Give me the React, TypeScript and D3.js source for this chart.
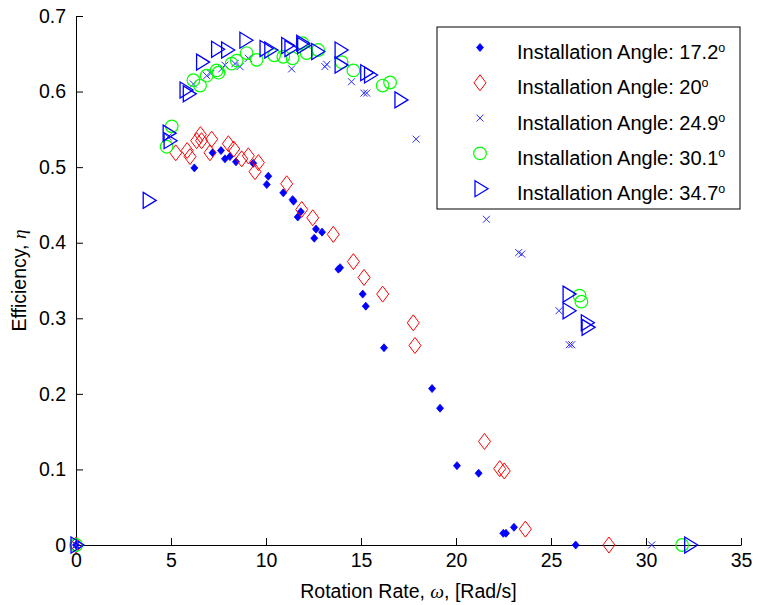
import { useEffect, useRef } from "react";
import * as d3 from "d3";

// Installation Angle: 17.2 (blue filled diamonds)
const s1x = [0, 6.23, 7.19, 7.63, 7.84, 8.1, 8.42, 9.33, 10.12, 10.04, 10.91, 11.4, 11.45, 11.83, 11.67, 12.63, 12.95, 12.54, 13.81, 13.9, 15.09, 15.25, 16.21, 18.74, 19.16, 20.05, 21.19, 22.49, 22.63, 23.05, 26.3];
const s1y = [0, 0.499, 0.519, 0.522, 0.511, 0.514, 0.507, 0.505, 0.488, 0.477, 0.466, 0.457, 0.455, 0.441, 0.434, 0.418, 0.414, 0.406, 0.365, 0.367, 0.332, 0.316, 0.261, 0.207, 0.181, 0.105, 0.095, 0.0155, 0.0155, 0.0234, 0];

// Installation Angle: 20 (red hollow diamonds)
const s2x = [0, 5.25, 5.85, 6.0, 6.35, 6.55, 6.61, 7.05, 7.14, 8.02, 8.3, 8.72, 9.07, 9.6, 9.42, 11.09, 11.88, 12.46, 13.54, 14.6, 15.16, 16.14, 17.75, 17.84, 21.5, 22.3, 22.54, 23.65, 28.05];
const s2y = [0, 0.519, 0.522, 0.514, 0.535, 0.543, 0.535, 0.519, 0.537, 0.531, 0.524, 0.511, 0.515, 0.506, 0.494, 0.478, 0.444, 0.433, 0.411, 0.375, 0.354, 0.332, 0.294, 0.264, 0.137, 0.101, 0.098, 0.021, 0];

// Installation Angle: 24.9 (blue x)
const s3x = [0, 4.85, 6.18, 6.88, 7.1, 7.67, 7.84, 8.37, 8.63, 9.07, 11.35, 13.1, 13.2, 14.5, 15.15, 15.3, 17.9, 21.6, 23.3, 23.46, 25.42, 25.96, 26.09, 30.3];
const s3y = [0, 0.54, 0.61, 0.621, 0.624, 0.63, 0.635, 0.637, 0.633, 0.644, 0.63, 0.633, 0.636, 0.613, 0.598, 0.598, 0.537, 0.431, 0.387, 0.385, 0.31, 0.265, 0.265, 0];

// Installation Angle: 30.1 (green circles)
const s4x = [0, 4.77, 5.04, 6.18, 6.53, 6.88, 7.4, 7.5, 8.19, 8.46, 8.98, 9.51, 10.43, 10.91, 11.4, 11.92, 12.14, 12.75, 13.98, 14.6, 16.14, 16.53, 26.5, 26.6, 31.9];
const s4y = [0, 0.527, 0.554, 0.615, 0.608, 0.621, 0.628, 0.625, 0.637, 0.641, 0.651, 0.642, 0.648, 0.646, 0.644, 0.664, 0.651, 0.655, 0.639, 0.628, 0.608, 0.612, 0.33, 0.322, 0];

// Installation Angle: 34.7 (blue right triangles)
const s5x = [0, 3.8, 4.85, 4.9, 5.74, 5.91, 6.61, 7.4, 7.93, 8.89, 9.95, 10.2, 11.09, 11.26, 11.88, 11.93, 12.67, 13.9, 13.9, 15.25, 15.45, 17.05, 25.9, 25.9, 26.86, 26.9, 32.3];
const s5y = [0, 0.456, 0.545, 0.535, 0.602, 0.597, 0.639, 0.656, 0.655, 0.668, 0.657, 0.655, 0.661, 0.657, 0.664, 0.661, 0.653, 0.655, 0.635, 0.625, 0.622, 0.589, 0.332, 0.31, 0.294, 0.288, 0];

const legendAngles = ["17.2", "20", "24.9", "30.1", "34.7"];
const xTicks = [0, 5, 10, 15, 20, 25, 30, 35];
const yTicks = [0, 0.1, 0.2, 0.3, 0.4, 0.5, 0.6, 0.7];

const W = 760;
const H = 605;
const FONT = "'Liberation Sans', Arial, sans-serif";

type Sel = d3.Selection<SVGGElement, unknown, null, undefined>;

// marker drawers, centred at 0,0
const markers: ((g: Sel) => void)[] = [
  (g) => g.append("path").attr("d", "M0,-4L3.5,0L0,4L-3.5,0Z").attr("fill", "#0000ff").attr("stroke", "#0000ff").attr("stroke-width", 0.8),
  (g) => g.append("path").attr("d", "M0,-8L6,0L0,8L-6,0Z").attr("fill", "none").attr("stroke", "#ff0000").attr("stroke-width", 1),
  (g) => g.append("path").attr("d", "M-3.5,-3.5L3.5,3.5M-3.5,3.5L3.5,-3.5").attr("fill", "none").attr("stroke", "#2a2aff").attr("stroke-width", 1),
  (g) => g.append("circle").attr("r", 6.3).attr("fill", "none").attr("stroke", "#00ff00").attr("stroke-width", 1.2),
  (g) => g.append("path").attr("d", "M-5,-8L8,0L-5,8Z").attr("fill", "none").attr("stroke", "#0000ff").attr("stroke-width", 1.3),
];

const App = () => {
  const svgRef = useRef<SVGSVGElement>(null);

  useEffect(() => {
    document.body.style.margin = "0";
    const svg = d3.select(svgRef.current);
    svg.selectAll("*").remove();

    const left = 76, right = 741, top = 16, bottom = 545;
    const x = d3.scaleLinear().domain([0, 35]).range([left, right]);
    const y = d3.scaleLinear().domain([0, 0.7]).range([bottom, top]);

    svg.append("rect").attr("width", W).attr("height", H).attr("fill", "#fff");

    // axes
    const xAxis = svg.append("g")
      .attr("transform", `translate(0,${bottom})`)
      .call(d3.axisBottom(x).tickValues(xTicks).tickSizeInner(-7).tickSizeOuter(0).tickPadding(8).tickFormat(d3.format("d")));
    const yAxis = svg.append("g")
      .attr("transform", `translate(${left},0)`)
      .call(d3.axisLeft(y).tickValues(yTicks).tickSizeInner(-7).tickSizeOuter(0).tickPadding(10).tickFormat((d) => (+d === 0 ? "0" : d3.format(".1f")(+d))));
    [xAxis, yAxis].forEach((a) => {
      a.selectAll("text").attr("font-family", FONT).attr("font-size", 19.5).attr("fill", "#000");
      a.selectAll("line, path").attr("stroke", "#000");
    });

    // points
    const series = [
      [s1x, s1y], [s2x, s2y], [s3x, s3y], [s4x, s4y], [s5x, s5y],
    ];
    series.forEach(([xs, ys], i) => {
      const g = svg.append("g");
      xs.forEach((xv, j) => {
        const m = g.append("g").attr("transform", `translate(${x(xv)},${y(ys[j])})`);
        markers[i](m);
      });
    });

    // axis labels
    const xl = svg.append("text")
      .attr("x", (left + right) / 2).attr("y", 598)
      .attr("text-anchor", "middle").attr("font-family", FONT).attr("font-size", 19.5);
    xl.append("tspan").text("Rotation Rate, ");
    xl.append("tspan").attr("font-family", "'Liberation Serif', serif").attr("font-style", "italic").text("ω");
    xl.append("tspan").text(", [Rad/s]");

    const yl = svg.append("text")
      .attr("transform", `translate(26,${(top + bottom) / 2}) rotate(-90)`)
      .attr("text-anchor", "middle").attr("font-family", FONT).attr("font-size", 19.5);
    yl.append("tspan").text("Efficiency, ");
    yl.append("tspan").attr("font-family", "'Liberation Serif', serif").attr("font-style", "italic").text("η");

    // legend
    const lg = svg.append("g");
    lg.append("rect").attr("x", 437).attr("y", 27).attr("width", 303).attr("height", 182)
      .attr("fill", "#fff").attr("stroke", "#000").attr("stroke-width", 1);
    legendAngles.forEach((a, i) => {
      const base = 59 + i * 35.3;
      const m = lg.append("g").attr("transform", `translate(480,${base - 11.5})`);
      markers[i](m);
      const t = lg.append("text").attr("x", 517).attr("y", base)
        .attr("font-family", FONT).attr("font-size", 20).attr("fill", "#000");
      t.append("tspan").text(`Installation Angle: ${a}`);
      t.append("tspan").attr("font-size", 12.5).attr("dy", -7.5).text("o");
    });
  }, []);

  return <svg ref={svgRef} width={W} height={H} style={{ display: "block" }} />;
};

export default App;
